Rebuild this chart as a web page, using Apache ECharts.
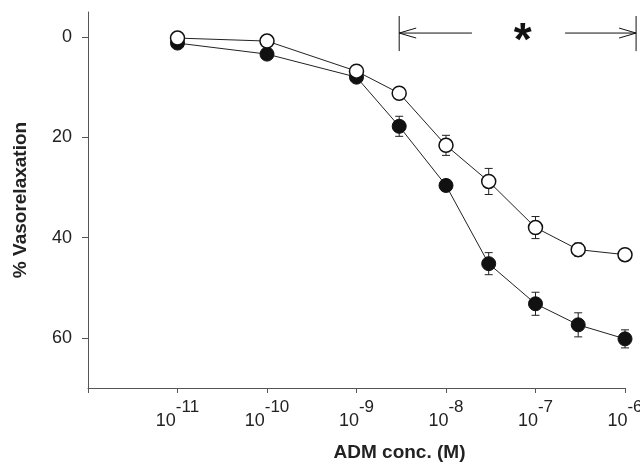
<!DOCTYPE html>
<html>
<head>
<meta charset="utf-8">
<script src="https://cdn.jsdelivr.net/npm/echarts@6/dist/echarts.min.js"></script>
<style>html,body{margin:0;padding:0;background:#fff;}#c{width:640px;height:464px;}</style>
</head>
<body>
<div id="c"></div>
<script>
// ---- data ----
var concentrations = [1e-11, 1e-10, 1e-9, 3e-9, 1e-8, 3e-8, 1e-7, 3e-7, 1e-6];
var openValues   = [0.2, 0.8, 6.8, 11.2, 21.6, 28.8, 38.0, 42.4, 43.4];
var openErrors   = [0, 0, 0, 0.8, 2.0, 2.6, 2.2, 1.3, 0.6];
var filledValues = [1.2, 3.4, 8.0, 17.8, 29.6, 45.2, 53.2, 57.4, 60.2];
var filledErrors = [0, 0, 0.8, 2.0, 0.8, 2.2, 2.3, 2.4, 1.8];
var yTickValues = [0, 20, 40, 60];
var xTickExponents = [-12, -11, -10, -9, -8, -7, -6];
// significance bracket (x in M, y in %)
var sigBracket = { start: 3e-9, end: 1.33e-6, y: -0.8, yTop: -4.2, yBottom: 2.8,
                   gapLeft: 1.95e-8, gapRight: 2.14e-7, starX: 7.2e-8, label: '*' };

function pairs(xs, ys) { return xs.map(function (x, i) { return [x, ys[i]]; }); }
function errData(xs, ys, es) { return xs.map(function (x, i) { return [x, ys[i], es[i]]; }); }

function errorBarRender(params, api) {
  var x = api.value(0), y = api.value(1), e = api.value(2);
  if (!e) return null;
  var hi = api.coord([x, y - e]);
  var lo = api.coord([x, y + e]);
  var w = 4;
  var st = { stroke: '#222', lineWidth: 1 };
  return { type: 'group', children: [
    { type: 'line', shape: { x1: hi[0], y1: hi[1], x2: lo[0], y2: lo[1] }, style: st },
    { type: 'line', shape: { x1: hi[0] - w, y1: hi[1], x2: hi[0] + w, y2: hi[1] }, style: st },
    { type: 'line', shape: { x1: lo[0] - w, y1: lo[1], x2: lo[0] + w, y2: lo[1] }, style: st }
  ]};
}

function bracketRender(params, api) {
  var b = sigBracket;
  var L = api.coord([b.start, b.y]);
  var R = api.coord([b.end, b.y]);
  var gl = api.coord([b.gapLeft, b.y]);
  var gr = api.coord([b.gapRight, b.y]);
  var top = api.coord([b.start, b.yTop])[1];
  var bot = api.coord([b.start, b.yBottom])[1];
  var s = api.coord([b.starX, b.y]);
  var st = { stroke: '#111', lineWidth: 1 };
  var ah = 17, aw = 5;
  return { type: 'group', children: [
    { type: 'line', shape: { x1: L[0], y1: top, x2: L[0], y2: bot }, style: st },
    { type: 'line', shape: { x1: R[0], y1: top, x2: R[0], y2: bot }, style: st },
    { type: 'line', shape: { x1: L[0], y1: L[1], x2: gl[0], y2: L[1] }, style: st },
    { type: 'line', shape: { x1: gr[0], y1: R[1], x2: R[0], y2: R[1] }, style: st },
    { type: 'polyline', shape: { points: [[L[0] + ah, L[1] - aw], [L[0], L[1]], [L[0] + ah, L[1] + aw]] }, style: { stroke: '#111', lineWidth: 1, fill: null } },
    { type: 'polyline', shape: { points: [[R[0] - ah, R[1] - aw], [R[0], R[1]], [R[0] - ah, R[1] + aw]] }, style: { stroke: '#111', lineWidth: 1, fill: null } },
    { type: 'text', x: s[0], y: s[1] + 9, style: { text: b.label, font: 'bold 46px "Liberation Sans", Arial, sans-serif', fill: '#111', align: 'center', verticalAlign: 'middle' } }
  ]};
}

var chart = echarts.init(document.getElementById('c'), null, { renderer: 'canvas' });
chart.setOption({
  animation: false,
  backgroundColor: '#fff',
  textStyle: { fontFamily: '"Liberation Sans", Arial, sans-serif' },
  grid: { left: 88, right: 15, top: 12, bottom: 76, containLabel: false, outerBoundsMode: 'none' },
  xAxis: {
    type: 'log', logBase: 10, min: 1e-12, max: 1e-6,
    name: 'ADM conc. (M)', nameLocation: 'middle', nameGap: 55,
    nameTextStyle: { fontSize: 19, fontWeight: 'bold', color: '#222', padding: [0, 0, 0, 86] },
    axisLine: { onZero: false, lineStyle: { color: '#555', width: 1 } },
    axisTick: { show: true, length: 5, lineStyle: { color: '#555' } },
    splitLine: { show: false },
    minorTick: { show: false },
    axisLabel: {
      margin: 11, color: '#222', hideOverlap: false,
      formatter: function (v) {
        var e = Math.round(Math.log10(v));
        if (e === xTickExponents[0]) return '';
        return '{b|10}{e|' + e + '}';
      },
      rich: {
        b: { fontSize: 18, color: '#222', verticalAlign: 'bottom', lineHeight: 31 },
        e: { fontSize: 17, color: '#222', verticalAlign: 'top', lineHeight: 31 }
      }
    }
  },
  yAxis: {
    type: 'value', inverse: true, min: -5, max: 70,
    name: '% Vasorelaxation', nameLocation: 'middle', nameGap: 58,
    nameTextStyle: { fontSize: 19, fontWeight: 'bold', color: '#222', padding: [0, 0, 0, 0] },
    axisLine: { show: true, onZero: false, lineStyle: { color: '#555', width: 1 } },
    axisTick: { show: true, length: 6, customValues: yTickValues, lineStyle: { color: '#555' } },
    axisLabel: { fontSize: 18, color: '#222', margin: 16, customValues: yTickValues },
    splitLine: { show: false }
  },
  series: [
    { type: 'custom', renderItem: errorBarRender, data: errData(concentrations, filledValues, filledErrors), z: 1, silent: true },
    { type: 'custom', renderItem: errorBarRender, data: errData(concentrations, openValues, openErrors), z: 1, silent: true },
    { type: 'line', data: pairs(concentrations, filledValues), symbol: 'circle', symbolSize: 14,
      lineStyle: { color: '#222', width: 1 }, itemStyle: { color: '#111', borderColor: '#111', borderWidth: 1 }, z: 3 },
    { type: 'line', data: pairs(concentrations, openValues), symbol: 'circle', symbolSize: 14,
      lineStyle: { color: '#222', width: 1 }, itemStyle: { color: '#fff', borderColor: '#111', borderWidth: 1.5 }, z: 4 },
    { type: 'custom', renderItem: bracketRender, data: [[sigBracket.start, sigBracket.y]], clip: false, z: 5, silent: true }
  ]
});
</script>
</body>
</html>
